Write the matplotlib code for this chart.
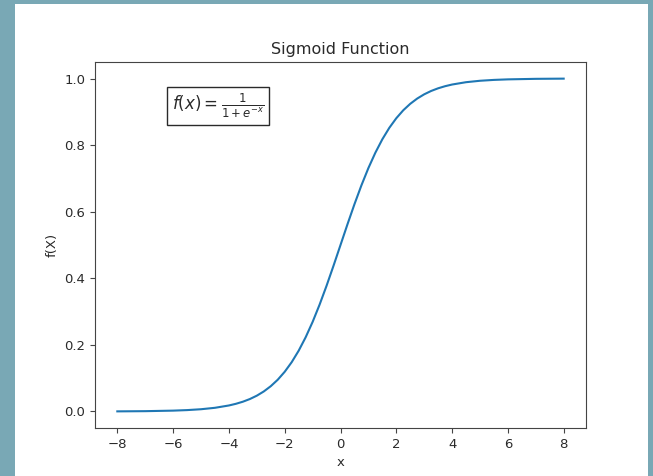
import matplotlib.pyplot as plt
from matplotlib.patches import Rectangle

# values
x_vals = [-8, -7, -6, -5.5, -5, -4.5, -4, -3.75, -3.5, -3.25, -3, -2.75, -2.5, -2.25,
          -2, -1.75, -1.5, -1.25, -1, -0.75, -0.5, -0.25, 0, 0.25, 0.5, 0.75, 1,
          1.25, 1.5, 1.75, 2, 2.25, 2.5, 2.75, 3, 3.25, 3.5, 3.75, 4, 4.5, 5, 5.5,
          6, 7, 8]
y_vals = [0.0003, 0.0009, 0.0025, 0.0041, 0.0067, 0.0110, 0.0180, 0.0230, 0.0293,
          0.0373, 0.0474, 0.0601, 0.0759, 0.0953, 0.1192, 0.1480, 0.1824, 0.2227,
          0.2689, 0.3208, 0.3775, 0.4378, 0.5, 0.5622, 0.6225, 0.6792, 0.7311,
          0.7773, 0.8176, 0.8520, 0.8808, 0.9047, 0.9241, 0.9399, 0.9526, 0.9627,
          0.9707, 0.9770, 0.9820, 0.9890, 0.9933, 0.9959, 0.9975, 0.9991, 0.9997]

# the screenshot is a bit soft, so dark grey instead of pure black
ink = "#2a2a2a"
plt.rcParams.update({"text.color": ink, "axes.edgecolor": "#444444",
                     "axes.labelcolor": ink, "xtick.color": "#444444",
                     "ytick.color": "#444444", "xtick.labelcolor": ink,
                     "ytick.labelcolor": ink})

W, H = 653, 476
fig = plt.figure(figsize=(W / 100, H / 100), dpi=100, facecolor="#79a8b5")
# white page on the teal backdrop
page = Rectangle((15 / W, 0), 633 / W, 472 / H, transform=fig.transFigure,
                 facecolor="white", edgecolor="none", zorder=-10)
fig.add_artist(page)

ax = fig.add_axes([95 / W, (H - 428) / H, 491 / W, 366 / H])
ax.plot(x_vals, y_vals)
ax.set_title("Sigmoid Function", fontsize=11.5)
ax.set_xlabel("x", fontsize=9.5)
ax.set_ylabel("f(X)", fontsize=9.5)
ax.tick_params(labelsize=9.5)
ax.text(0.156, 0.879, r"$f(x) = \frac{1}{1+e^{-x}}$", transform=ax.transAxes,
        fontsize=12, va="center", ha="left",
        bbox=dict(facecolor="white", edgecolor=ink, boxstyle="square,pad=0.3"))

fig.savefig("out.png", dpi=100, facecolor=fig.get_facecolor())
